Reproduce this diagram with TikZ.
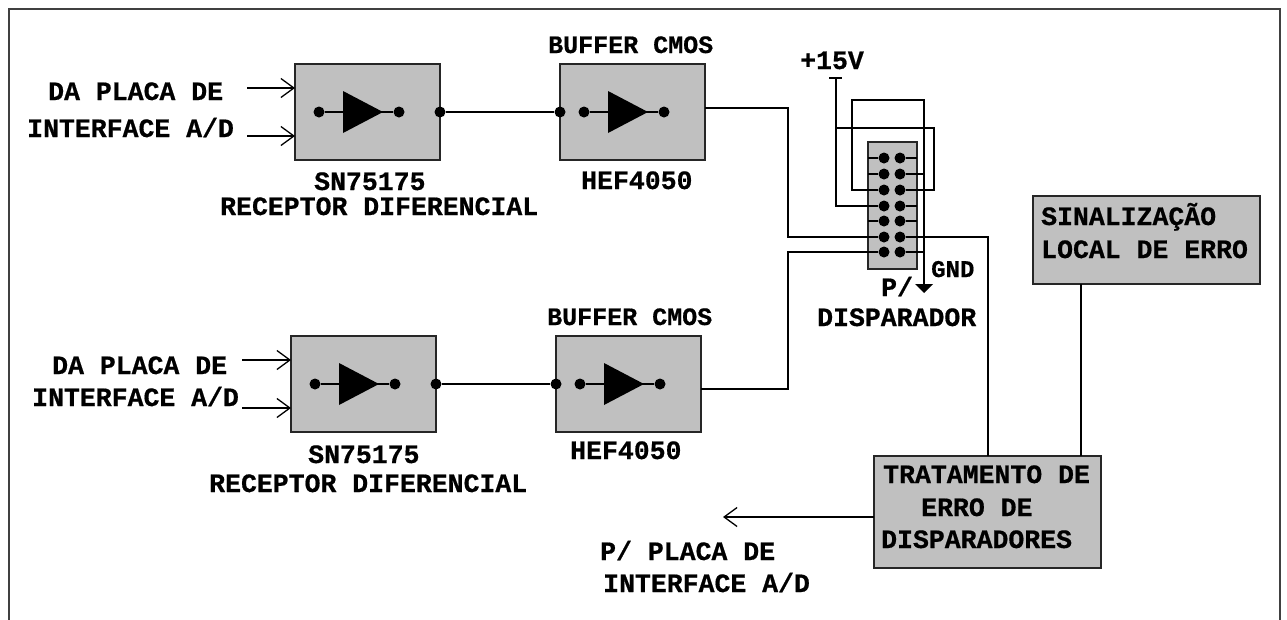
\documentclass[tikz,border=0pt]{standalone}
\usepackage{fontspec}
\setmonofont{Liberation Mono}[BoldFont={Liberation Mono Bold},BoldFeatures={FakeBold=0.6}]
\usetikzlibrary{arrows.meta,calc}
\newcommand{\bigfont}{\fontsize{26.5pt}{26.5pt}\selectfont\ttfamily\bfseries}
\newcommand{\smallfont}{\fontsize{25pt}{25pt}\selectfont\ttfamily\bfseries}
\newcommand{\tinyfont}{\fontsize{24pt}{24pt}\selectfont\ttfamily\bfseries}
\tikzset{
  wire/.style={line width=1.8pt,black,line join=miter},
  graybox/.style={draw=black!85,fill=boxgray,line width=2pt,inner sep=0pt,outer sep=0pt,minimum width=#1},
  dot/.style={circle,fill=black,inner sep=0pt,minimum size=#1},
  lbl/.style={inner sep=0pt,anchor=base west,font=\bigfont,text=black},
  slbl/.style={inner sep=0pt,anchor=base west,font=\smallfont,text=black},
  tlbl/.style={inner sep=0pt,anchor=base west,font=\tinyfont,text=black},
  openhead/.style={-{Straight Barb[length=13pt,width=19pt,line width=1.3pt]}},
  pinline/.style={line width=1.5pt,black},
}
\definecolor{boxgray}{HTML}{C0C0C0}
\definecolor{framegray}{HTML}{404040}
% name, left x, top y
\newcommand{\bufferblock}[3]{%
  \node[graybox=145pt,minimum height=96pt] (#1) at ($(#2+72.5,#3+48)$) {};
  \node[dot=11pt] (#1a) at (#2+24,#3+48) {};
  \node[dot=11pt] (#1b) at (#2+104,#3+48) {};
  \coordinate (#1t1) at (#2+48,#3+27);
  \coordinate (#1t2) at (#2+48,#3+69);
  \coordinate (#1t3) at (#2+88,#3+48);
  \draw[wire] (#1a) -- (#1t3) -- (#1b);
  \fill[black] (#1t1) -- (#1t3) -- (#1t2) -- cycle;
}
\begin{document}
\begin{tikzpicture}[x=1pt,y=-1pt]
\useasboundingbox (0,0) rectangle (1287,619);
% frame
\coordinate (fa) at (9,630); \coordinate (fb) at (9,9); \coordinate (fc) at (1280,9); \coordinate (fd) at (1280,630);
\draw[line width=2.6pt,framegray] (fa) -- (fb) -- (fc) -- (fd);

\bufferblock{A}{295}{64}
\bufferblock{B}{560}{64}
\bufferblock{C}{291}{336}
\bufferblock{D}{556}{336}

\node[dot=11pt] (Aout) at (440,112) {};
\node[dot=11pt] (Bin) at (560,112) {};
\node[dot=11pt] (Cout) at (436,384) {};
\node[dot=11pt] (Din) at (556,384) {};
\draw[wire] (Aout) -- (Bin);
\draw[wire] (Cout) -- (Din);

% inputs
\coordinate (ai1) at (247,88); \coordinate (ai2) at (247,136);
\coordinate (ae1) at (295,88); \coordinate (ae2) at (295,136);
\coordinate (ci1) at (242,360); \coordinate (ci2) at (242,408);
\coordinate (ce1) at (291,360); \coordinate (ce2) at (291,408);
\foreach \p/\q in {ai1/ae1,ai2/ae2,ci1/ce1,ci2/ce2} \draw[wire,openhead] (\p) -- (\q);

% connector
\node[graybox=49pt,minimum height=127pt] (J) at (892.5,205.5) {};
\foreach \i/\y in {1/158,2/174,3/190,4/206,5/221,6/237,7/252}{
  \node[dot=11pt] (L\i) at (884,\y) {};
  \node[dot=11pt] (R\i) at (900,\y) {};
  \coordinate (LE\i) at (868,\y);
  \coordinate (RE\i) at (917,\y);
  \draw[pinline] (LE\i) -- (L\i);
  \draw[pinline] (R\i) -- (RE\i);
}
% signal wires
\coordinate (b1) at (705,108); \coordinate (b2) at (788,108); \coordinate (b3) at (788,237);
\draw[wire] (b1) -- (b2) -- (b3) -- (L6);
\coordinate (d1) at (701,389); \coordinate (d2) at (788,389); \coordinate (d3) at (788,252);
\draw[wire] (d1) -- (d2) -- (d3) -- (L7);
% treatment and signalling boxes
\node[graybox=227pt,minimum height=112pt] (T) at (987.5,512) {};
\node[graybox=227pt,minimum height=88pt] (S) at (1146.5,240) {};
\coordinate (tt) at (988,456);
\coordinate (r6) at (988,237);
\draw[wire] (R6) -- (r6) -- (tt);
\coordinate (s1) at (1081,284); \coordinate (s2) at (1081,456);
\draw[wire] (s1) -- (s2);
\coordinate (t1) at (874,517); \coordinate (t2) at (723,517);
\draw[wire,openhead] (t1) -- (t2);

% +15V
\coordinate (v0) at (836,78); \coordinate (v1) at (829,78); \coordinate (v2) at (842,78);
\coordinate (v3) at (836,128); \coordinate (v4) at (836,206);
\coordinate (v5) at (934,128); \coordinate (v6) at (934,190);
\draw[wire] (v1) -- (v2);
\draw[wire] (v0) -- (v4) -- (L4);
\draw[wire] (v3) -- (v5) -- (v6) -- (R3);
% GND loop
\coordinate (g1) at (852,190); \coordinate (g2) at (852,100); \coordinate (g3) at (924,100); \coordinate (g4) at (924,285);
\draw[wire] (L3) -- (g1) -- (g2) -- (g3) -- (g4);
\coordinate (g5) at (915,284); \coordinate (g6) at (933,284); \coordinate (g7) at (924,293);
\fill[black] (g5) -- (g6) -- (g7) -- cycle;
\coordinate (h1) at (924,174); \coordinate (h2) at (924,252);
\draw[pinline] (R2) -- (h1);
\draw[pinline] (R7) -- (h2);

% labels
\node[lbl] (t01) at (48,100) {DA PLACA DE};
\node[lbl] (t02) at (27,137) {INTERFACE A/D};
\node[lbl] (t03) at (314,190) {SN75175};
\node[lbl] (t04) at (220,215) {RECEPTOR DIFERENCIAL};
\node[slbl] (t05) at (548,53) {BUFFER CMOS};
\node[lbl] (t06) at (581,189) {HEF4050};
\node[lbl] (t07) at (52,374) {DA PLACA DE};
\node[lbl] (t08) at (32,406) {INTERFACE A/D};
\node[lbl] (t09) at (308,463) {SN75175};
\node[lbl] (t10) at (209,492) {RECEPTOR DIFERENCIAL};
\node[slbl] (t11) at (547,325) {BUFFER CMOS};
\node[lbl] (t12) at (570,459) {HEF4050};
\node[lbl] (t13) at (800,69) {+15V};
\node[tlbl] (t14) at (931,277) {GND};
\node[lbl] (t15) at (881,296) {P/};
\node[lbl] (t16) at (817,326) {DISPARADOR};
\node[lbl] (t17) at (1041,225) {SINALIZAÇÃO};
\node[lbl] (t18) at (1041,258) {LOCAL DE ERRO};
\node[lbl] (t19) at (883,483) {TRATAMENTO DE};
\node[lbl] (t20) at (921,516) {ERRO DE};
\node[lbl] (t21) at (881,548) {DISPARADORES};
\node[lbl] (t22) at (600,560) {P/ PLACA DE};
\node[lbl] (t23) at (603,592) {INTERFACE A/D};
\end{tikzpicture}
\end{document}
